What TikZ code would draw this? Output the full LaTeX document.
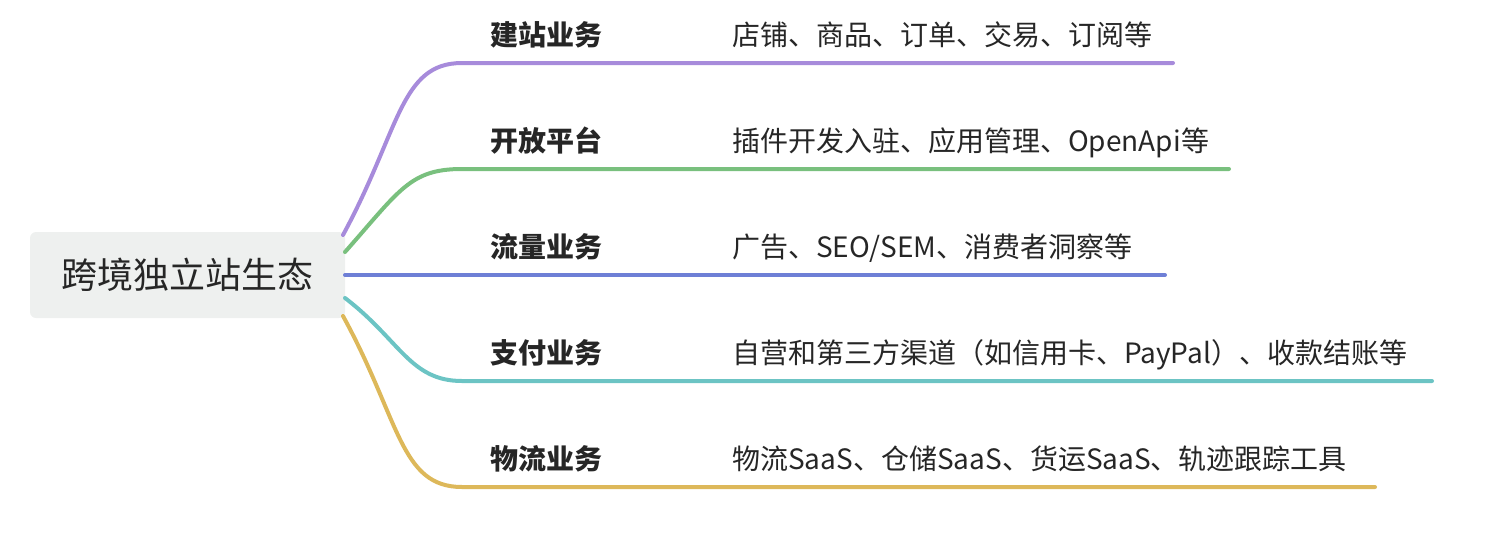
\documentclass[tikz,border=0pt]{standalone}
\usepackage{fontspec}
\setmainfont{Noto Sans CJK SC}
\definecolor{cA}{HTML}{A78BDB}
\definecolor{cB}{HTML}{79C07E}
\definecolor{cC}{HTML}{6E7FD6}
\definecolor{cD}{HTML}{6CC4C4}
\definecolor{cE}{HTML}{DDB85A}
\definecolor{rootbg}{HTML}{EEF0EF}
\begin{document}
\begin{tikzpicture}[x=1pt,y=-1pt,
  branch/.style={line width=4pt,line cap=round},
  cat/.style={anchor=base west,font=\fontsize{28}{30}\selectfont\bfseries,text=black!85,inner sep=0},
  desc/.style={anchor=base west,font=\fontsize{28}{30}\selectfont,text=black!85,inner sep=0}]
\useasboundingbox (0,0) rectangle (1508,542);
\node[fill=rootbg,rounded corners=6pt,minimum width=315pt,minimum height=86pt,
  font=\fontsize{36}{38}\selectfont,text=black!85] (root) at (187.5,275) {跨境独立站生态};
\coordinate (s1) at (343,235); \coordinate (s2) at (345,252);
\coordinate (s3) at (345,275); \coordinate (s4) at (345,298); \coordinate (s5) at (343,316);
\coordinate (m1) at (462,63); \coordinate (e1) at (1173,63);
\coordinate (m2) at (462,169); \coordinate (e2) at (1229,169);
\coordinate (m3) at (462,275); \coordinate (e3) at (1165,275);
\coordinate (m4) at (462,381); \coordinate (e4) at (1432,381);
\coordinate (m5) at (462,487); \coordinate (e5) at (1375,487);
\draw[branch,cA] (s1) .. controls (400,130) and (400,63) .. (m1) -- (e1);
\draw[branch,cB] (s2) .. controls (400,190) and (410,169) .. (m2) -- (e2);
\draw[branch,cC] (s3) -- (e3);
\draw[branch,cD] (s4) .. controls (400,340) and (410,381) .. (m4) -- (e4);
\draw[branch,cE] (s5) .. controls (400,420) and (400,487) .. (m5) -- (e5);
\node[cat] (b1) at (490,45) {建站业务};
\node[cat] (b2) at (490,151) {开放平台};
\node[cat] (b3) at (490,257) {流量业务};
\node[cat] (b4) at (490,363) {支付业务};
\node[cat] (b5) at (490,469) {物流业务};
\node[desc] (d1) at (732,45) {店铺、商品、订单、交易、订阅等};
\node[desc] (d2) at (732,151) {插件开发入驻、应用管理、OpenApi等};
\node[desc] (d3) at (732,257) {广告、SEO/SEM、消费者洞察等};
\node[desc] (d4) at (732,363) {自营和第三方渠道（如信用卡、PayPal）、收款结账等};
\node[desc] (d5) at (732,469) {物流SaaS、仓储SaaS、货运SaaS、轨迹跟踪工具};
\end{tikzpicture}
\end{document}
